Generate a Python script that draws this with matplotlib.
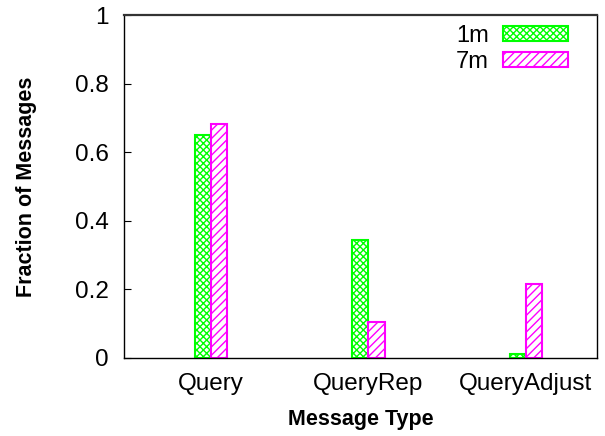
import matplotlib
matplotlib.use("Agg")
import matplotlib.pyplot as plt
import numpy as np

plt.rcParams['font.family'] = ['Liberation Sans', 'DejaVu Sans']
plt.rcParams['hatch.linewidth'] = 1.0

categories = ["Query", "QueryRep", "QueryAdjust"]
series_names = ["1m", "7m"]
vals_1m = [0.650, 0.344, 0.012]
vals_7m = [0.682, 0.105, 0.216]
yticks = [0, 0.2, 0.4, 0.6, 0.8, 1]
yticklabels = ["0", "0.2", "0.4", "0.6", "0.8", "1"]

fig = plt.figure(figsize=(6.05, 4.36), dpi=100)
ax = fig.add_axes([124/605, 1-358/436, (597-124)/605, (358-15)/436])

x = np.arange(len(categories))
w = 0.102
green = "#00ff00"
magenta = "#ff00ff"
ax.bar(x - w/2, vals_1m, w, facecolor="white", edgecolor=green, hatch="xxxxx",
       linewidth=1.5, label=series_names[0])
ax.bar(x + w/2, vals_7m, w, facecolor="white", edgecolor=magenta, hatch="////",
       linewidth=1.5, label=series_names[1])

ax.set_xlim(-0.552, 2.451)
ax.set_ylim(0, 1)
ax.set_xticks(x)
ax.set_xticklabels(categories, fontsize=17.5)
ax.set_yticks(yticks)
ax.set_yticklabels(yticklabels, fontsize=17.5)
ax.tick_params(axis='y', direction='in', length=5, pad=11)
ax.tick_params(axis='x', length=0, pad=11)
for s in ax.spines.values():
    s.set_linewidth(1.0)
ax.spines['top'].set_linewidth(1.6)
ax.spines['top'].set_color('#333333')

ax.set_xlabel("Message Type", fontsize=15.5, fontweight='bold')
ax.xaxis.set_label_coords(0.5, -0.148)
ax.set_ylabel("Fraction of Messages", fontsize=15.5, fontweight='bold')
ax.yaxis.set_label_coords(-0.184, 0.5)

leg = ax.legend(loc='upper right', frameon=False, fontsize=17, markerfirst=False,
                handlelength=2.75, handleheight=0.6, handletextpad=0.6,
                labelspacing=0.15, borderaxespad=0.0, borderpad=0.0,
                bbox_to_anchor=((568-124)/473, 1 - (25-15)/343))

fig.savefig("out.png", dpi=100)
